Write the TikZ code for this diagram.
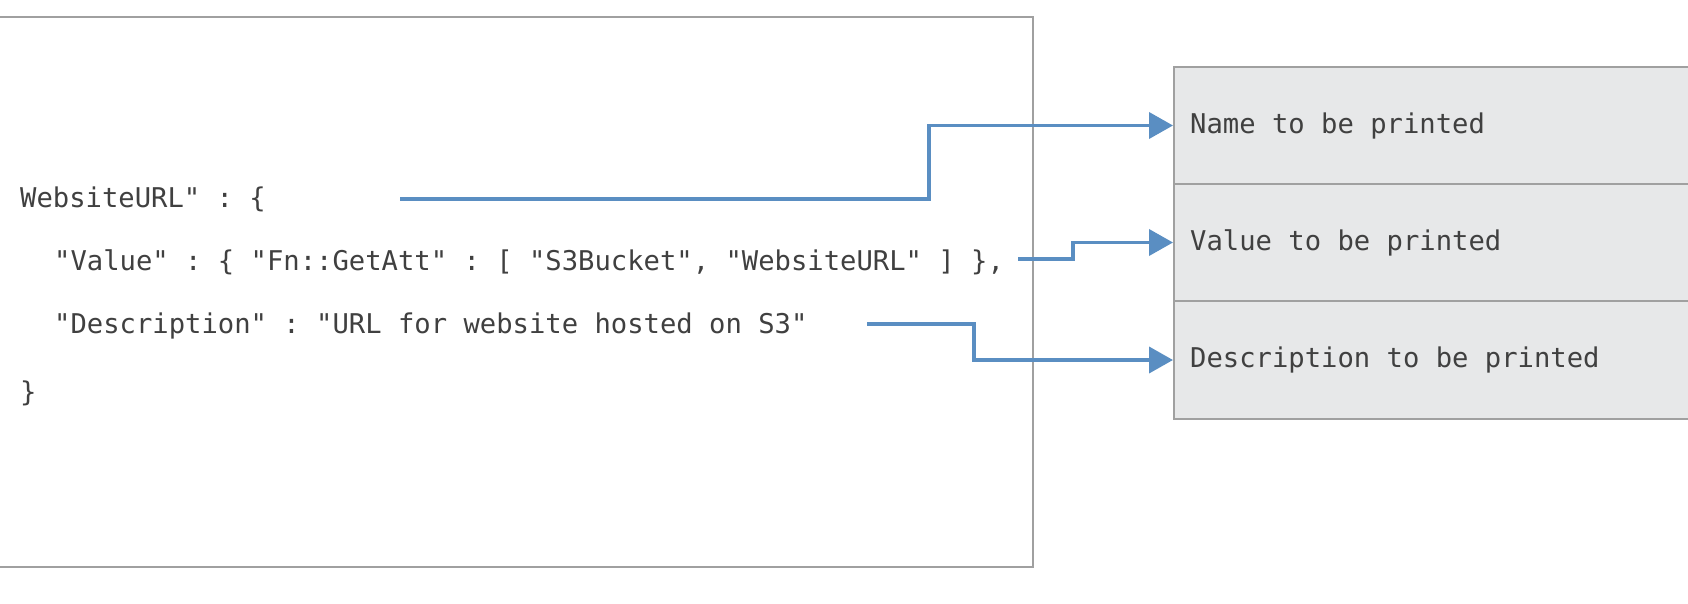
\documentclass[tikz,border=0pt]{standalone}
\usepackage{fontspec}
\setmonofont{DejaVu Sans Mono}
\usetikzlibrary{arrows.meta}
\definecolor{codegray}{HTML}{404040}
\definecolor{boxgray}{HTML}{A0A0A0}
\definecolor{cellfill}{HTML}{E7E8E9}
\definecolor{arrowblue}{HTML}{5A8EC2}
\begin{document}
\begin{tikzpicture}[x=1pt,y=-1pt,
  code/.style={anchor=west, inner sep=0pt, font=\ttfamily\fontsize{27.2}{32}\selectfont, text=codegray},
  cell/.style={draw=boxgray, line width=2pt, fill=cellfill, anchor=north west,
    minimum width=540pt, inner sep=0pt},
  link/.style={draw=arrowblue, line width=3.8pt, -{Triangle[length=24pt,width=26pt]}}]
\clip (0,0) rectangle (1688,604);
\fill[white] (0,0) rectangle (1688,604);
% left code box
\draw[boxgray, line width=2pt] (-10,17) rectangle (1033,567);
\node[code] (l1) at (20,199) {WebsiteURL" : \{};
\node[code] (l2) at (54,262) {"Value" : \{ "Fn::GetAtt" : [ "S3Bucket", "WebsiteURL" ] \},};
\node[code] (l3) at (54,326) {"Description" : "URL for website hosted on S3"};
\node[code] (l4) at (20,393) {\}};
% right cells
\node[cell, minimum height=117pt] (n1) at (1173,66) {};
\node[cell, minimum height=117pt] (n2) at (1173,183) {};
\node[cell, minimum height=118pt] (n3) at (1173,300) {};
\node[code] (t1) at ([xshift=17pt]n1.west) {Name to be printed};
\node[code] (t2) at ([xshift=17pt]n2.west) {Value to be printed};
\node[code] (t3) at ([xshift=17pt]n3.west) {Description to be printed};
% connector starts
\coordinate (s1) at (400,199);
\coordinate (s2) at (1018,259);
\coordinate (s3) at (867,324);
\draw[link] (s1) -- ++(529,0) |- (n1.west);
\draw[link] (s2) -- ++(55,0) |- (n2.west);
\draw[link] (s3) -- ++(107,0) |- (n3.west);
\end{tikzpicture}
\end{document}
